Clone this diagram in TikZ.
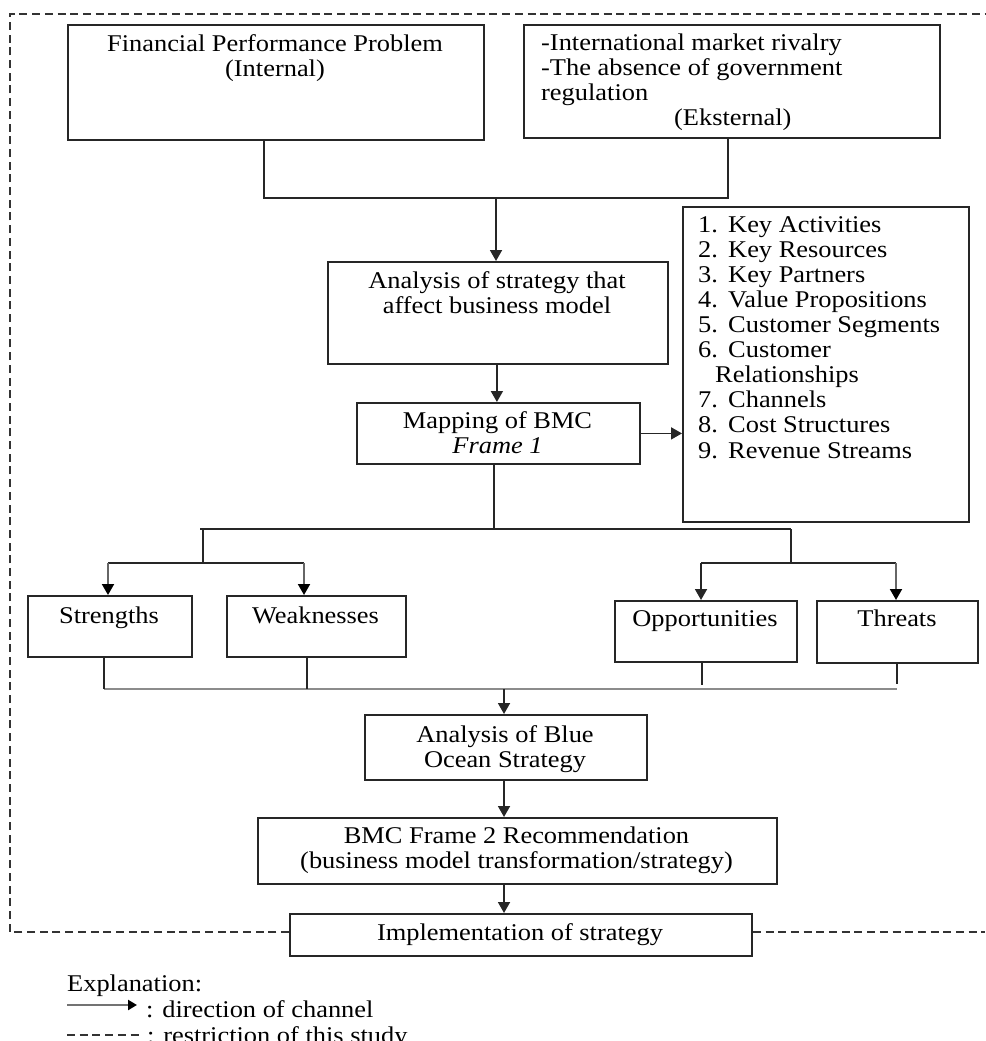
\documentclass[tikz,border=0pt]{standalone}
\usepackage{fontspec}
\setmainfont{Liberation Serif}[FakeStretch=1.1]
\usetikzlibrary{arrows.meta,calc}
\begin{document}
\begin{tikzpicture}[x=1pt,y=-1pt,
  box/.style={draw=black!85, line width=1.8pt, inner sep=0pt, anchor=north west},
  txt/.style={font=\fontsize{24}{25}\selectfont, inner sep=0pt, align=center, anchor=base},
  ln/.style={draw=black!85, line width=1.8pt},
  arr/.style={ln, -{Triangle[length=11pt,width=12pt]}},
  garr/.style={draw=black!60, line width=1.9pt, -{Triangle[length=11pt,width=12pt,color=black]}},
  gline/.style={draw=black!45, line width=2.2pt},
  border/.style={draw=black!80, line width=1.4pt, dash pattern=on 8pt off 4.7pt},
]
\useasboundingbox (0,0) rectangle (985,1041);

% boxes
\node[box, minimum width=416pt, minimum height=115pt] (fpp) at (67,24) {};
\node[box, minimum width=416pt, minimum height=113pt] (ext) at (523,24) {};
\node[box, minimum width=340pt, minimum height=102pt] (ana) at (327,261) {};
\node[box, minimum width=283pt, minimum height=61pt] (map) at (356,402) {};
\node[box, minimum width=286pt, minimum height=315pt] (list) at (682,206) {};
\node[box, minimum width=164pt, minimum height=61pt] (s) at (27,595) {};
\node[box, minimum width=179pt, minimum height=61pt] (w) at (226,595) {};
\node[box, minimum width=182pt, minimum height=61pt] (o) at (614,600) {};
\node[box, minimum width=161pt, minimum height=62pt] (t) at (816,600) {};
\node[box, minimum width=282pt, minimum height=65pt] (blue) at (364,714) {};
\node[box, minimum width=519pt, minimum height=66pt] (bmc) at (257,817) {};
\node[box, minimum width=462pt, minimum height=42pt] (impl) at (289,913) {};

% texts (anchor=base of a multi-line node is its last line)
\node[txt] (fpptxt) at (275,77) {Financial Performance Problem\\(Internal)};
\node[txt, align=left, anchor=base west] (exttxt) at (541,125) {-International market rivalry\\-The absence of government\\regulation\\\hspace*{133pt}(Eksternal)};
\node[txt] (anatxt) at (497,313) {Analysis of strategy that\\affect business model};
\node[txt] (maptxt) at (497.5,453) {Mapping of BMC\\\textit{Frame 1}};
\node[txt, align=left, anchor=base west, font=\fontsize{24}{25.1}\selectfont] (listtxt) at (698,458) {%
\makebox[30pt][l]{1.}Key Activities\\
\makebox[30pt][l]{2.}Key Resources\\
\makebox[30pt][l]{3.}Key Partners\\
\makebox[30pt][l]{4.}Value Propositions\\
\makebox[30pt][l]{5.}Customer Segments\\
\makebox[30pt][l]{6.}Customer\\
\hspace*{17pt}Relationships\\
\makebox[30pt][l]{7.}Channels\\
\makebox[30pt][l]{8.}Cost Structures\\
\makebox[30pt][l]{9.}Revenue Streams};
\node[txt] (stxt) at (109,623) {Strengths};
\node[txt] (wtxt) at (315.5,623) {Weaknesses};
\node[txt] (otxt) at (705,626) {Opportunities};
\node[txt] (ttxt) at (897,626) {Threats};
\node[txt] (bluetxt) at (505,767) {Analysis of Blue\\Ocean Strategy};
\node[txt] (bmctxt) at (516.5,868) {BMC Frame 2 Recommendation\\(business model transformation/strategy)};
\node[txt] (impltxt) at (520,940) {Implementation of strategy};

% top connectors
\coordinate (j1) at (496,198);
\draw[ln] ([xshift=-12pt]fpp.south) |- (j1) -| ([xshift=-4pt]ext.south);
\draw[arr] (j1) -- (j1 |- ana.north);
\draw[arr] ([xshift=-1pt]ana.south) -- ([xshift=-1pt]ana.south |- map.north);
\draw[arr] (map.east) -- (map.east -| list.west);

% SWOT split
\coordinate (j2) at (494,529);
\coordinate (jl) at (203,529);
\coordinate (jr) at (791,529);
\coordinate (jl2) at (203,563);
\coordinate (jr2) at (791,563);
\coordinate (as) at (108,563);
\coordinate (aw) at (304,563);
\coordinate (ao) at (701,563);
\coordinate (at) at (896,563);
\draw[ln] (map.south -| j2) -- (j2);
\draw[ln] ([xshift=-3pt]jl) -- (jr);
\draw[ln] (jl) -- (jl2);
\draw[ln] (jr) -- (jr2);
\draw[ln] (as) -- (aw);
\draw[ln] (ao) -- (at);
\draw[garr] (as) -- (as |- s.north);
\draw[garr] (aw) -- (aw |- w.north);
\draw[arr] (ao) -- (ao |- o.north);
\draw[garr] (at) -- (at |- t.north);

% SWOT merge
\coordinate (bs) at (104,689);
\coordinate (bw) at (307,689);
\coordinate (bo) at (702,689);
\coordinate (bt) at (897,689);
\coordinate (bb) at (504,689);
\draw[gline] (bs) -- (bt);
\draw[ln] (s.south -| bs) -- (bs);
\draw[ln] (w.south -| bw) -- (bw);
\draw[ln] (o.south -| bo) -- ([yshift=4pt]bo);
\draw[ln] (t.south -| bt) -- ([yshift=5pt]bt);
\draw[arr] (bb) -- (bb |- blue.north);
\draw[arr] (blue.south -| bb) -- (bb |- bmc.north);
\draw[arr] (bmc.south -| bb) -- (bb |- impl.north);

% study border
\coordinate (c1) at (10,932);
\coordinate (c2) at (10,14);
\coordinate (c3) at (985,14);
\coordinate (c4) at (985,932);
\draw[border] (impl.west |- c1) -- (c1) -- (c2) -- (c3);
\draw[border] (impl.east |- c4) -- (c4);

% legend
\node[txt, anchor=base west] (expl) at (67,991) {Explanation:};
\coordinate (la1) at (67,1005);
\coordinate (la2) at (137,1005);
\draw[draw=black!55, line width=2.4pt, -{Triangle[length=9pt,width=10pt,color=black]}] (la1) -- (la2);
\node[txt, anchor=base west] (l1) at (146,1017) {: direction of channel};
\coordinate (ld1) at (67,1035);
\coordinate (ld2) at (143,1035);
\draw[border] (ld1) -- (ld2);
\node[txt, anchor=base west] (l2) at (147,1043) {: restriction of this study};
\end{tikzpicture}
\end{document}
